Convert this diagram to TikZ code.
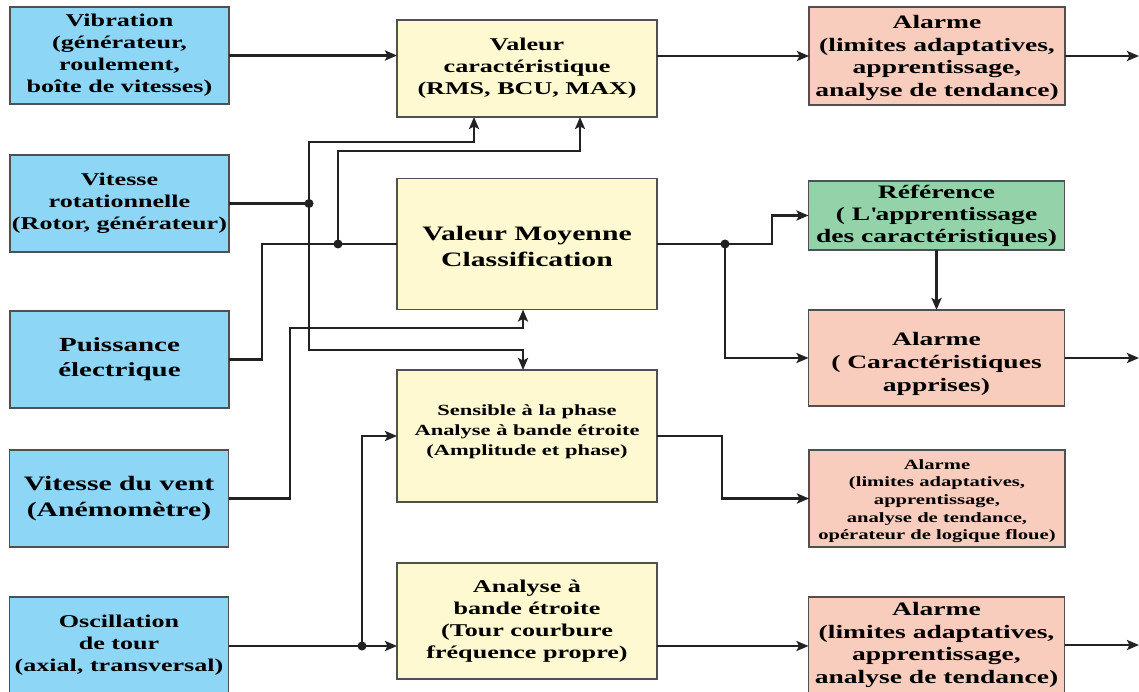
\documentclass[tikz,border=0pt]{standalone}
\usepackage{fontspec}
\setmainfont{Liberation Serif}[FakeStretch=1.45]
\usetikzlibrary{arrows.meta}
\definecolor{bluef}{HTML}{8DD6F6}
\definecolor{yellowf}{HTML}{FFF9D2}
\definecolor{pinkf}{HTML}{F8CDBE}
\definecolor{greenf}{HTML}{94D3A9}
\definecolor{edge}{HTML}{505050}
\definecolor{wire}{HTML}{222222}
\tikzset{
  box/.style={draw=edge, line width=1.8pt, rectangle, inner sep=0pt, outer sep=0pt, align=center, font=\bfseries\fontsize{18}{22}\selectfont},
  inbox/.style={box, fill=bluef, minimum width=219pt, minimum height=97pt},
  procbox/.style={box, fill=yellowf, minimum width=260pt},
  alarmbox/.style={box, fill=pinkf, minimum width=256pt, font=\bfseries\fontsize{19}{22.5}\selectfont},
  refbox/.style={box, fill=greenf, minimum width=256pt, font=\bfseries\fontsize{19}{22}\selectfont},
  wireline/.style={draw=wire, line width=2.8pt},
  arr/.style={wireline, -{Stealth[length=12pt,width=10pt,inset=2.5pt]}},
  dot/.style={fill=wire}
}
\begin{document}
\begin{tikzpicture}[x=1pt,y=-1pt]
\useasboundingbox (0,0) rectangle (1139,692);
% inputs
\node[inbox] (vib) at (119.5,55.5) {Vibration\\(générateur,\\roulement,\\boîte de vitesses)};
\node[inbox] (rot) at (119.5,203.5) {Vitesse\\rotationnelle\\(Rotor, générateur)};
\node[inbox, font=\bfseries\fontsize{20}{25}\selectfont] (pui) at (119.5,359.5) {Puissance\\électrique};
\node[inbox, font=\bfseries\fontsize{20.5}{26}\selectfont] (ven) at (119,498.5) {Vitesse du vent\\(Anémomètre)};
\node[inbox] (osc) at (119,645.5) {Oscillation\\de tour\\(axial, transversal)};
% processing
\node[procbox, minimum height=97pt] (A) at (527,68.5) {Valeur\\caractéristique\\(RMS, BCU, MAX)};
\node[procbox, minimum height=131pt, font=\bfseries\fontsize{20.5}{26}\selectfont] (B) at (527,244) {\\[-6pt]Valeur Moyenne\\Classification};
\node[procbox, minimum height=132pt, font=\bfseries\fontsize{15.5}{20}\selectfont] (C) at (527,436) {Sensible à la phase\\Analyse à bande étroite\\(Amplitude et phase)\\[-8pt]};
\node[procbox, minimum height=116pt] (D) at (527,621) {Analyse à\\bande étroite\\(Tour courbure\\fréquence propre)};
% outputs
\node[alarmbox, minimum height=98pt] (R1) at (937,56) {\\[-5.5pt]Alarme\\(limites adaptatives,\\apprentissage,\\analyse de tendance)};
\node[refbox, minimum height=69pt] (R2) at (936.5,215.5) {Référence\\( L\textquotesingle apprentissage\\des caractéristiques)};
\node[alarmbox, minimum height=96pt, font=\bfseries\fontsize{19}{23}\selectfont] (R3) at (936.5,358) {\\[2pt]Alarme\\( Caractéristiques\\apprises)};
\node[alarmbox, minimum height=97pt, font=\bfseries\fontsize{14.2}{17.6}\selectfont] (R4) at (937,498.5) {\\[-2.5pt]Alarme\\(limites adaptatives,\\apprentissage,\\analyse de tendance,\\opérateur de logique floue)};
\node[alarmbox, minimum height=96pt] (R5) at (936.5,645) {Alarme\\(limites adaptatives,\\apprentissage,\\analyse de tendance)};
% free ends and junctions
\coordinate (o1) at (1139,56);
\coordinate (o3) at (1139,358);
\coordinate (o5) at (1139,645);
\coordinate (j1) at (309,203.5);
\coordinate (j2) at (338,244);
\coordinate (j3) at (362,646);
\coordinate (j4) at (725,244);
% connectors
\draw[arr] (vib.east) -- (vib.east -| A.west);
\draw[arr] (R1.west -| A.east) -- (R1.west);
\draw[arr] (R1.east) -- (o1);
\draw[wireline] (rot.east) -- (j1);
\draw[arr] (j1) -- (309,142) -| ([xshift=-53pt]A.south);
\draw[arr] (j1) -- (309,350) -| ([xshift=-4pt]C.north);
\draw[wireline] (pui.east) -| (262,244) -- (B.west);
\draw[arr] (j2) -- (338,151) -| ([xshift=53pt]A.south);
\draw[arr] (ven.east) -| (290,328) -| ([xshift=-4pt]B.south);
\draw[wireline] (osc.east |- j3) -- (j3);
\draw[arr] (j3) -- (j3 -| D.west);
\draw[arr] (j3) |- (C.west);
\draw[wireline] (B.east) -- (j4);
\draw[arr] (j4) -- (772,244) |- (R2.west);
\draw[arr] (j4) |- (R3.west);
\draw[arr] (R2.south) -- (R3.north);
\draw[arr] (R3.east) -- (o3);
\draw[arr] (C.east) -- (722,436) |- (R4.west);
\draw[arr] (j3 -| D.east) -- (j3 -| R5.west);
\draw[arr] (R5.east) -- (o5);
\foreach \j in {j1,j2,j3,j4} \fill[dot] (\j) circle (4.5pt);
\end{tikzpicture}
\end{document}
